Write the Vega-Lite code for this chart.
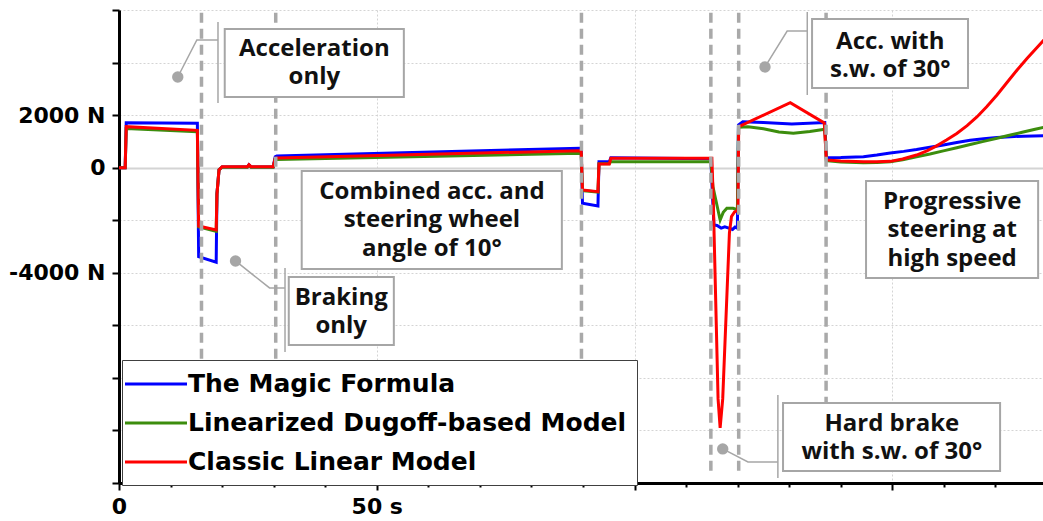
{
  "$schema": "https://vega.github.io/schema/vega-lite/v6.json",
  "autosize": {"type": "none"},
  "padding": {"left": 119, "top": 10, "right": 0, "bottom": 38},
  "width": 928,
  "height": 473,
  "background": "white",
  "config": {"view": {"stroke": null}},
  "datasets": {
    "series": [
      {"model": "The Magic Formula", "t": 0, "F": 0},
      {"model": "The Magic Formula", "t": 1.2, "F": 0},
      {"model": "The Magic Formula", "t": 1.4, "F": 1712},
      {"model": "The Magic Formula", "t": 15.2, "F": 1690},
      {"model": "The Magic Formula", "t": 15.45, "F": -3386},
      {"model": "The Magic Formula", "t": 18.85, "F": -3600},
      {"model": "The Magic Formula", "t": 19.0, "F": -1000},
      {"model": "The Magic Formula", "t": 19.4, "F": -80},
      {"model": "The Magic Formula", "t": 20, "F": 30},
      {"model": "The Magic Formula", "t": 24.9, "F": 30},
      {"model": "The Magic Formula", "t": 25.2, "F": 110},
      {"model": "The Magic Formula", "t": 25.6, "F": 30},
      {"model": "The Magic Formula", "t": 29.9, "F": 30},
      {"model": "The Magic Formula", "t": 30.3, "F": 418},
      {"model": "The Magic Formula", "t": 30.6, "F": 445},
      {"model": "The Magic Formula", "t": 89.4, "F": 738},
      {"model": "The Magic Formula", "t": 89.65, "F": 700},
      {"model": "The Magic Formula", "t": 89.9, "F": -1355},
      {"model": "The Magic Formula", "t": 92.9, "F": -1457},
      {"model": "The Magic Formula", "t": 93.1, "F": 228},
      {"model": "The Magic Formula", "t": 95.1, "F": 228},
      {"model": "The Magic Formula", "t": 95.4, "F": 380},
      {"model": "The Magic Formula", "t": 114.8, "F": 340},
      {"model": "The Magic Formula", "t": 115.1, "F": -1000},
      {"model": "The Magic Formula", "t": 115.4, "F": -2180},
      {"model": "The Magic Formula", "t": 116, "F": -2200},
      {"model": "The Magic Formula", "t": 116.8, "F": -2300},
      {"model": "The Magic Formula", "t": 117.5, "F": -2250},
      {"model": "The Magic Formula", "t": 118.3, "F": -2300},
      {"model": "The Magic Formula", "t": 119, "F": -2350},
      {"model": "The Magic Formula", "t": 119.5, "F": -2260},
      {"model": "The Magic Formula", "t": 119.95, "F": -2300},
      {"model": "The Magic Formula", "t": 120.15, "F": 1625},
      {"model": "The Magic Formula", "t": 121, "F": 1750},
      {"model": "The Magic Formula", "t": 125, "F": 1720},
      {"model": "The Magic Formula", "t": 130.5, "F": 1663},
      {"model": "The Magic Formula", "t": 136.9, "F": 1720},
      {"model": "The Magic Formula", "t": 137.2, "F": 380},
      {"model": "The Magic Formula", "t": 140, "F": 385},
      {"model": "The Magic Formula", "t": 144.4, "F": 418},
      {"model": "The Magic Formula", "t": 147, "F": 480},
      {"model": "The Magic Formula", "t": 149.6, "F": 560},
      {"model": "The Magic Formula", "t": 152.2, "F": 620},
      {"model": "The Magic Formula", "t": 154.7, "F": 690},
      {"model": "The Magic Formula", "t": 157.3, "F": 780},
      {"model": "The Magic Formula", "t": 159.9, "F": 864},
      {"model": "The Magic Formula", "t": 162.5, "F": 960},
      {"model": "The Magic Formula", "t": 165.1, "F": 1040},
      {"model": "The Magic Formula", "t": 167.7, "F": 1100},
      {"model": "The Magic Formula", "t": 170.3, "F": 1150},
      {"model": "The Magic Formula", "t": 172.9, "F": 1180},
      {"model": "The Magic Formula", "t": 175.4, "F": 1200},
      {"model": "The Magic Formula", "t": 180, "F": 1215},
      {"model": "Linearized Dugoff-based Model", "t": 0, "F": 0},
      {"model": "Linearized Dugoff-based Model", "t": 1.2, "F": 0},
      {"model": "Linearized Dugoff-based Model", "t": 1.4, "F": 1490},
      {"model": "Linearized Dugoff-based Model", "t": 15.2, "F": 1370},
      {"model": "Linearized Dugoff-based Model", "t": 15.45, "F": -2250},
      {"model": "Linearized Dugoff-based Model", "t": 18.85, "F": -2420},
      {"model": "Linearized Dugoff-based Model", "t": 19.0, "F": -1000},
      {"model": "Linearized Dugoff-based Model", "t": 19.4, "F": -80},
      {"model": "Linearized Dugoff-based Model", "t": 20, "F": 20},
      {"model": "Linearized Dugoff-based Model", "t": 24.9, "F": 20},
      {"model": "Linearized Dugoff-based Model", "t": 25.2, "F": 90},
      {"model": "Linearized Dugoff-based Model", "t": 25.6, "F": 20},
      {"model": "Linearized Dugoff-based Model", "t": 29.9, "F": 20},
      {"model": "Linearized Dugoff-based Model", "t": 30.3, "F": 330},
      {"model": "Linearized Dugoff-based Model", "t": 30.6, "F": 312},
      {"model": "Linearized Dugoff-based Model", "t": 89.4, "F": 548},
      {"model": "Linearized Dugoff-based Model", "t": 89.65, "F": 520},
      {"model": "Linearized Dugoff-based Model", "t": 89.9, "F": -870},
      {"model": "Linearized Dugoff-based Model", "t": 92.9, "F": -930},
      {"model": "Linearized Dugoff-based Model", "t": 93.1, "F": 150},
      {"model": "Linearized Dugoff-based Model", "t": 95.1, "F": 150},
      {"model": "Linearized Dugoff-based Model", "t": 95.4, "F": 228},
      {"model": "Linearized Dugoff-based Model", "t": 114.8, "F": 228},
      {"model": "Linearized Dugoff-based Model", "t": 115.2, "F": -723},
      {"model": "Linearized Dugoff-based Model", "t": 115.9, "F": -1355},
      {"model": "Linearized Dugoff-based Model", "t": 116.6, "F": -1990},
      {"model": "Linearized Dugoff-based Model", "t": 117.2, "F": -1700},
      {"model": "Linearized Dugoff-based Model", "t": 117.9, "F": -1545},
      {"model": "Linearized Dugoff-based Model", "t": 119.1, "F": -1545},
      {"model": "Linearized Dugoff-based Model", "t": 119.95, "F": -1600},
      {"model": "Linearized Dugoff-based Model", "t": 120.15, "F": 1537},
      {"model": "Linearized Dugoff-based Model", "t": 122, "F": 1560},
      {"model": "Linearized Dugoff-based Model", "t": 125, "F": 1480},
      {"model": "Linearized Dugoff-based Model", "t": 128, "F": 1360},
      {"model": "Linearized Dugoff-based Model", "t": 130.8, "F": 1309},
      {"model": "Linearized Dugoff-based Model", "t": 134, "F": 1380},
      {"model": "Linearized Dugoff-based Model", "t": 136.9, "F": 1461},
      {"model": "Linearized Dugoff-based Model", "t": 137.2, "F": 266},
      {"model": "Linearized Dugoff-based Model", "t": 140, "F": 220},
      {"model": "Linearized Dugoff-based Model", "t": 144.4, "F": 190},
      {"model": "Linearized Dugoff-based Model", "t": 147, "F": 195},
      {"model": "Linearized Dugoff-based Model", "t": 149.6, "F": 228},
      {"model": "Linearized Dugoff-based Model", "t": 152, "F": 300},
      {"model": "Linearized Dugoff-based Model", "t": 154.7, "F": 418},
      {"model": "Linearized Dugoff-based Model", "t": 157.3, "F": 520},
      {"model": "Linearized Dugoff-based Model", "t": 159.9, "F": 640},
      {"model": "Linearized Dugoff-based Model", "t": 162.5, "F": 760},
      {"model": "Linearized Dugoff-based Model", "t": 165.1, "F": 880},
      {"model": "Linearized Dugoff-based Model", "t": 167.7, "F": 1000},
      {"model": "Linearized Dugoff-based Model", "t": 170.3, "F": 1120},
      {"model": "Linearized Dugoff-based Model", "t": 172.9, "F": 1240},
      {"model": "Linearized Dugoff-based Model", "t": 175.4, "F": 1360},
      {"model": "Linearized Dugoff-based Model", "t": 177.7, "F": 1460},
      {"model": "Linearized Dugoff-based Model", "t": 180, "F": 1560},
      {"model": "Classic Linear Model", "t": 0, "F": 0},
      {"model": "Classic Linear Model", "t": 1.2, "F": 0},
      {"model": "Classic Linear Model", "t": 1.4, "F": 1560},
      {"model": "Classic Linear Model", "t": 15.2, "F": 1420},
      {"model": "Classic Linear Model", "t": 15.45, "F": -2218},
      {"model": "Classic Linear Model", "t": 18.85, "F": -2370},
      {"model": "Classic Linear Model", "t": 19.0, "F": -1000},
      {"model": "Classic Linear Model", "t": 19.4, "F": -88},
      {"model": "Classic Linear Model", "t": 20, "F": 38},
      {"model": "Classic Linear Model", "t": 24.9, "F": 38},
      {"model": "Classic Linear Model", "t": 25.2, "F": 110},
      {"model": "Classic Linear Model", "t": 25.6, "F": 38},
      {"model": "Classic Linear Model", "t": 29.9, "F": 38},
      {"model": "Classic Linear Model", "t": 30.3, "F": 357},
      {"model": "Classic Linear Model", "t": 30.6, "F": 369},
      {"model": "Classic Linear Model", "t": 89.4, "F": 647},
      {"model": "Classic Linear Model", "t": 89.65, "F": 620},
      {"model": "Classic Linear Model", "t": 89.9, "F": -849},
      {"model": "Classic Linear Model", "t": 92.9, "F": -913},
      {"model": "Classic Linear Model", "t": 93.1, "F": 141},
      {"model": "Classic Linear Model", "t": 95.1, "F": 141},
      {"model": "Classic Linear Model", "t": 95.4, "F": 357},
      {"model": "Classic Linear Model", "t": 115.0, "F": 357},
      {"model": "Classic Linear Model", "t": 115.27, "F": -1228},
      {"model": "Classic Linear Model", "t": 116.2, "F": -8800},
      {"model": "Classic Linear Model", "t": 116.6, "F": -9900},
      {"model": "Classic Linear Model", "t": 117.1, "F": -8800},
      {"model": "Classic Linear Model", "t": 118.4, "F": -2485},
      {"model": "Classic Linear Model", "t": 118.8, "F": -1860},
      {"model": "Classic Linear Model", "t": 119.4, "F": -1680},
      {"model": "Classic Linear Model", "t": 120.05, "F": -1620},
      {"model": "Classic Linear Model", "t": 120.2, "F": 1560},
      {"model": "Classic Linear Model", "t": 130.2, "F": 2473},
      {"model": "Classic Linear Model", "t": 136.8, "F": 1700},
      {"model": "Classic Linear Model", "t": 137.2, "F": 293},
      {"model": "Classic Linear Model", "t": 140, "F": 250},
      {"model": "Classic Linear Model", "t": 144.4, "F": 228},
      {"model": "Classic Linear Model", "t": 147, "F": 222},
      {"model": "Classic Linear Model", "t": 149.6, "F": 240},
      {"model": "Classic Linear Model", "t": 152, "F": 330},
      {"model": "Classic Linear Model", "t": 154.7, "F": 480},
      {"model": "Classic Linear Model", "t": 156.7, "F": 640},
      {"model": "Classic Linear Model", "t": 158.6, "F": 830},
      {"model": "Classic Linear Model", "t": 160.5, "F": 1050},
      {"model": "Classic Linear Model", "t": 162.5, "F": 1300},
      {"model": "Classic Linear Model", "t": 164.5, "F": 1600},
      {"model": "Classic Linear Model", "t": 166.4, "F": 1930},
      {"model": "Classic Linear Model", "t": 168.3, "F": 2320},
      {"model": "Classic Linear Model", "t": 170.3, "F": 2766},
      {"model": "Classic Linear Model", "t": 172.2, "F": 3230},
      {"model": "Classic Linear Model", "t": 174.2, "F": 3717},
      {"model": "Classic Linear Model", "t": 176.2, "F": 4170},
      {"model": "Classic Linear Model", "t": 178.2, "F": 4600},
      {"model": "Classic Linear Model", "t": 180, "F": 4990}
    ],
    "rules": [{"t": 16.0}, {"t": 30.4}, {"t": 89.7}, {"t": 114.8}, {"t": 120.2}, {"t": 137.15}],
    "callouts": [
      {"id": "c1", "o": 1, "t": 11.4, "F": 3451},
      {"id": "c1", "o": 2, "t": 15.1, "F": 4859},
      {"id": "c1", "o": 3, "t": 19.2, "F": 4859},
      {"id": "b1", "o": 1, "t": 19.2, "F": 5544},
      {"id": "b1", "o": 2, "t": 19.2, "F": 2462},
      {"id": "c3", "o": 1, "t": 22.6, "F": -3550},
      {"id": "c3", "o": 2, "t": 29.2, "F": -4577},
      {"id": "c3", "o": 3, "t": 32.2, "F": -4577},
      {"id": "b3", "o": 1, "t": 32.2, "F": -3816},
      {"id": "b3", "o": 2, "t": 32.2, "F": -7013},
      {"id": "c4", "o": 1, "t": 125.3, "F": 3832},
      {"id": "c4", "o": 2, "t": 129.6, "F": 5201},
      {"id": "c4", "o": 3, "t": 133.5, "F": 5201},
      {"id": "b4", "o": 1, "t": 133.5, "F": 5924},
      {"id": "b4", "o": 2, "t": 133.5, "F": 2766},
      {"id": "c6", "o": 1, "t": 117.1, "F": -10703},
      {"id": "c6", "o": 2, "t": 122.0, "F": -11198},
      {"id": "c6", "o": 3, "t": 127.8, "F": -11198},
      {"id": "b6", "o": 1, "t": 127.8, "F": -8649},
      {"id": "b6", "o": 2, "t": 127.8, "F": -11807}
    ],
    "dots": [
      {"t": 11.4, "F": 3451},
      {"t": 22.6, "F": -3550},
      {"t": 125.3, "F": 3832},
      {"t": 117.1, "F": -10703}
    ],
    "boxes": [
      {"t1": 20.51, "t2": 55.25, "f1": 5277, "f2": 2690, "tc": 37.9, "fc": 4516, "label": "Acceleration\nonly"},
      {"t1": 35.44, "t2": 85.9, "f1": -126, "f2": -3854, "tc": 60.7, "fc": -925, "label": "Combined acc. and\nsteering wheel\nangle of 10°"},
      {"t1": 32.93, "t2": 53.31, "f1": -4159, "f2": -6746, "tc": 43.1, "fc": -4958, "label": "Braking\nonly"},
      {"t1": 134.43, "t2": 164.68, "f1": 5658, "f2": 3033, "tc": 149.6, "fc": 4783, "label": "Acc. with\ns.w. of 30°"},
      {"t1": 144.9, "t2": 178.28, "f1": -506, "f2": -4197, "tc": 161.6, "fc": -1305, "label": "Progressive\nsteering at\nhigh speed"},
      {"t1": 128.8, "t2": 170.9, "f1": -8953, "f2": -11540, "tc": 149.9, "fc": -9752, "label": "Hard brake\nwith s.w. of 30°"}
    ]
  },
  "layer": [
    {
      "data": {"name": "series"},
      "mark": {"type": "line", "strokeWidth": 3, "interpolate": "linear"},
      "encoding": {
        "x": {
          "field": "t", "type": "quantitative", "title": null,
          "scale": {"domain": [0, 180], "nice": false, "zero": false},
          "axis": {
            "values": [0, 10, 20, 30, 40, 50, 60, 70, 80, 90, 100, 110, 120, 130, 140, 150, 160, 170, 180],
            "labelExpr": "datum.value == 0 ? '0' : (datum.value == 50 ? '50 s' : '')",
            "labelOverlap": false, "labelFlush": false,
            "labelFont": "DejaVu Sans", "labelFontWeight": "bold", "labelFontSize": 22, "labelColor": "black",
            "labelPadding": 6,
            "domainColor": "black", "domainWidth": 3,
            "tickColor": "black", "tickWidth": 2,
            "tickSize": {"condition": {"test": "datum.value % 50 === 0", "value": 7}, "value": 4},
            "grid": true, "gridColor": "#d4d4d4", "gridDash": [2, 2], "gridWidth": 1,
            "gridOpacity": {"condition": {"test": "datum.value % 50 === 0 && datum.value > 0", "value": 1}, "value": 0}
          }
        },
        "y": {
          "field": "F", "type": "quantitative", "title": null,
          "scale": {"domain": [-12000, 6000], "nice": false, "zero": false},
          "axis": {
            "values": [-12000, -11000, -10000, -9000, -8000, -7000, -6000, -5000, -4000, -3000, -2000, -1000, 0, 1000, 2000, 3000, 4000, 5000, 6000],
            "labelExpr": "datum.value == 2000 ? '2000 N' : (datum.value == 0 ? '0' : (datum.value == -4000 ? '-4000 N' : ''))",
            "labelOverlap": false, "labelFlush": false,
            "labelFont": "DejaVu Sans", "labelFontWeight": "bold", "labelFontSize": 22, "labelColor": "black",
            "labelPadding": 7,
            "domainColor": "black", "domainWidth": 3,
            "tickColor": "black", "tickWidth": 2,
            "tickSize": {"condition": {"test": "datum.value % 2000 === 0", "value": 7}, "value": 4},
            "grid": true, "gridColor": "#d4d4d4",
            "gridDash": {"condition": {"test": "datum.value === 0", "value": []}, "value": [2, 2]},
            "gridWidth": {"condition": {"test": "datum.value === 0", "value": 2}, "value": 1},
            "gridOpacity": {"condition": {"test": "datum.value % 2000 === 0", "value": 1}, "value": 0}
          }
        },
        "color": {
          "field": "model", "type": "nominal",
          "scale": {
            "domain": ["The Magic Formula", "Linearized Dugoff-based Model", "Classic Linear Model"],
            "range": ["#0000ff", "#3c8d0d", "#ff0000"]
          },
          "legend": {
            "orient": "none", "legendX": 3, "legendY": 350,
            "title": null,
            "fillColor": "white", "strokeColor": "#404040",
            "padding": 10,
            "symbolType": "M-2.48,0H2.48", "symbolSize": 625, "symbolStrokeWidth": 3, "symbolOffset": 10,
            "labelFont": "DejaVu Sans", "labelFontWeight": "bold", "labelFontSize": 25, "labelColor": "black",
            "labelLimit": 0, "labelOffset": 18, "rowPadding": 12
          }
        }
      }
    },
    {
      "data": {"name": "rules"},
      "mark": {"type": "rule", "color": "#a9a9a9", "strokeWidth": 3.5, "strokeDash": [10, 6]},
      "encoding": {
        "x": {"field": "t", "type": "quantitative", "title": null, "scale": {"domain": [0, 180], "nice": false, "zero": false}},
        "y": {"datum": 5900, "type": "quantitative", "title": null, "scale": {"domain": [-12000, 6000], "nice": false, "zero": false}},
        "y2": {"datum": -11750}
      }
    },
    {
      "data": {"name": "callouts"},
      "mark": {"type": "line", "color": "#a6a6a6", "strokeWidth": 1.5},
      "encoding": {
        "x": {"field": "t", "type": "quantitative", "title": null, "scale": {"domain": [0, 180], "nice": false, "zero": false}},
        "y": {"field": "F", "type": "quantitative", "title": null, "scale": {"domain": [-12000, 6000], "nice": false, "zero": false}},
        "detail": {"field": "id"},
        "order": {"field": "o"}
      }
    },
    {
      "data": {"name": "dots"},
      "mark": {"type": "point", "filled": true, "color": "#a6a6a6", "opacity": 1, "size": 130},
      "encoding": {
        "x": {"field": "t", "type": "quantitative", "title": null, "scale": {"domain": [0, 180], "nice": false, "zero": false}},
        "y": {"field": "F", "type": "quantitative", "title": null, "scale": {"domain": [-12000, 6000], "nice": false, "zero": false}}
      }
    },
    {
      "data": {"name": "boxes"},
      "mark": {"type": "rect", "fill": "white", "stroke": "#a6a6a6", "strokeWidth": 2},
      "encoding": {
        "x": {"field": "t1", "type": "quantitative", "title": null, "scale": {"domain": [0, 180], "nice": false, "zero": false}},
        "x2": {"field": "t2"},
        "y": {"field": "f1", "type": "quantitative", "title": null, "scale": {"domain": [-12000, 6000], "nice": false, "zero": false}},
        "y2": {"field": "f2"}
      }
    },
    {
      "data": {"name": "boxes"},
      "mark": {"type": "text", "lineBreak": "\n", "font": "Open Sans", "fontWeight": "bold", "fontSize": 24, "lineHeight": 28.5, "color": "#111111", "align": "center", "baseline": "middle"},
      "encoding": {
        "x": {"field": "tc", "type": "quantitative", "title": null, "scale": {"domain": [0, 180], "nice": false, "zero": false}},
        "y": {"field": "fc", "type": "quantitative", "title": null, "scale": {"domain": [-12000, 6000], "nice": false, "zero": false}},
        "text": {"field": "label"}
      }
    }
  ]
}
